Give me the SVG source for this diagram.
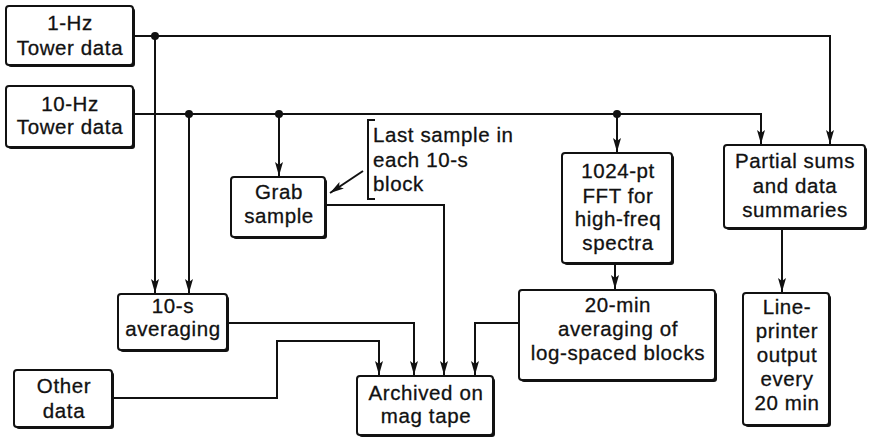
<svg xmlns="http://www.w3.org/2000/svg" width="869" height="439" viewBox="0 0 869 439">
<style>
.box{fill:#fff;stroke:#111;stroke-width:2}
.sh{fill:#111}
text{font-family:"Liberation Sans",Arial,sans-serif;font-size:20.5px;letter-spacing:0.6px;fill:#111;stroke:#111;stroke-width:0.3;text-anchor:middle}
.ln{fill:none;stroke:#111;stroke-width:2}
.ann{text-anchor:start}
</style>
<defs>
<marker id="ar" markerUnits="userSpaceOnUse" markerWidth="15" markerHeight="10" refX="14" refY="4" orient="auto">
<path d="M0,0 L14,4 L0,8 L3,4 Z" fill="#111"/>
</marker>
</defs>
<rect width="869" height="439" fill="#fff"/>
<g id="connectors">
<path class="ln" d="M133,36 H830 V144" marker-end="url(#ar)"/>
<path class="ln" d="M155,36 V293" marker-end="url(#ar)"/>
<path class="ln" d="M133,114 H761 V144" marker-end="url(#ar)"/>
<path class="ln" d="M189,114 V293" marker-end="url(#ar)"/>
<path class="ln" d="M279,114 V176" marker-end="url(#ar)"/>
<path class="ln" d="M617,114 V152" marker-end="url(#ar)"/>
<path class="ln" d="M325,205 H444 V375" marker-end="url(#ar)"/>
<path class="ln" d="M227,323 H414 V375" marker-end="url(#ar)"/>
<path class="ln" d="M112,398 H277 V341 H379 V375" marker-end="url(#ar)"/>
<path class="ln" d="M519,323 H475 V375" marker-end="url(#ar)"/>
<path class="ln" d="M615,263 V289" marker-end="url(#ar)"/>
<path class="ln" d="M782,228 V292" marker-end="url(#ar)"/>
<path class="ln" d="M363,171 L330,193" marker-end="url(#ar)" stroke-width="1.5"/>
<circle cx="155" cy="36" r="4" fill="#111"/>
<circle cx="189" cy="114" r="4" fill="#111"/>
<circle cx="279" cy="114" r="4" fill="#111"/>
<circle cx="617" cy="114" r="4" fill="#111"/>
</g>
<g id="n1hz">
<rect class="sh" x="8" y="8" width="127" height="59" rx="3"/>
<rect class="box" x="6" y="6" width="127" height="59" rx="3"/>
<text x="70" y="30">1-Hz</text><text x="70" y="55">Tower data</text>
</g>
<g id="n10hz">
<rect class="sh" x="8" y="88" width="127" height="61" rx="3"/>
<rect class="box" x="6" y="86" width="127" height="61" rx="3"/>
<text x="70" y="111">10-Hz</text><text x="70" y="134">Tower data</text>
</g>
<g id="grab">
<rect class="sh" x="233" y="179" width="94" height="60" rx="3"/>
<rect class="box" x="231" y="177" width="94" height="60" rx="3"/>
<text x="279" y="199">Grab</text><text x="279" y="223">sample</text>
</g>
<g id="note">
<path class="ln" d="M375,120 H368 V199 H375" stroke-width="1.5"/>
<text class="ann" x="373" y="142">Last sample in</text>
<text class="ann" x="373" y="167">each 10-s</text>
<text class="ann" x="373" y="191">block</text>
</g>
<g id="fft">
<rect class="sh" x="564" y="155" width="110" height="110" rx="3"/>
<rect class="box" x="562" y="153" width="110" height="110" rx="3"/>
<text x="618" y="178">1024-pt</text><text x="618" y="203">FFT for</text><text x="618" y="226">high-freq</text><text x="618" y="250">spectra</text>
</g>
<g id="partial">
<rect class="sh" x="726" y="147" width="141" height="83" rx="3"/>
<rect class="box" x="724" y="145" width="141" height="83" rx="3"/>
<text x="795" y="168">Partial sums</text><text x="795" y="193">and data</text><text x="795" y="217">summaries</text>
</g>
<g id="avg10">
<rect class="sh" x="120" y="296" width="109" height="56" rx="3"/>
<rect class="box" x="118" y="294" width="109" height="56" rx="3"/>
<text x="173" y="313">10-s</text><text x="173" y="336">averaging</text>
</g>
<g id="avg20">
<rect class="sh" x="521" y="292" width="196" height="90" rx="3"/>
<rect class="box" x="519" y="290" width="196" height="90" rx="3"/>
<text x="618" y="312">20-min</text><text x="618" y="336">averaging of</text><text x="618" y="360">log-spaced blocks</text>
</g>
<g id="printer">
<rect class="sh" x="745" y="295" width="86" height="132" rx="3"/>
<rect class="box" x="743" y="293" width="86" height="132" rx="3"/>
<text x="787" y="314">Line-</text><text x="787" y="338">printer</text><text x="787" y="362">output</text><text x="787" y="386">every</text><text x="787" y="410">20 min</text>
</g>
<g id="other">
<rect class="sh" x="16" y="372" width="98" height="57" rx="3"/>
<rect class="box" x="14" y="370" width="98" height="57" rx="3"/>
<text x="64" y="393">Other</text><text x="64" y="418">data</text>
</g>
<g id="archive">
<rect class="sh" x="359" y="378" width="136" height="59" rx="3"/>
<rect class="box" x="357" y="376" width="136" height="59" rx="3"/>
<text x="426" y="400">Archived on</text><text x="426" y="423">mag tape</text>
</g>
</svg>
